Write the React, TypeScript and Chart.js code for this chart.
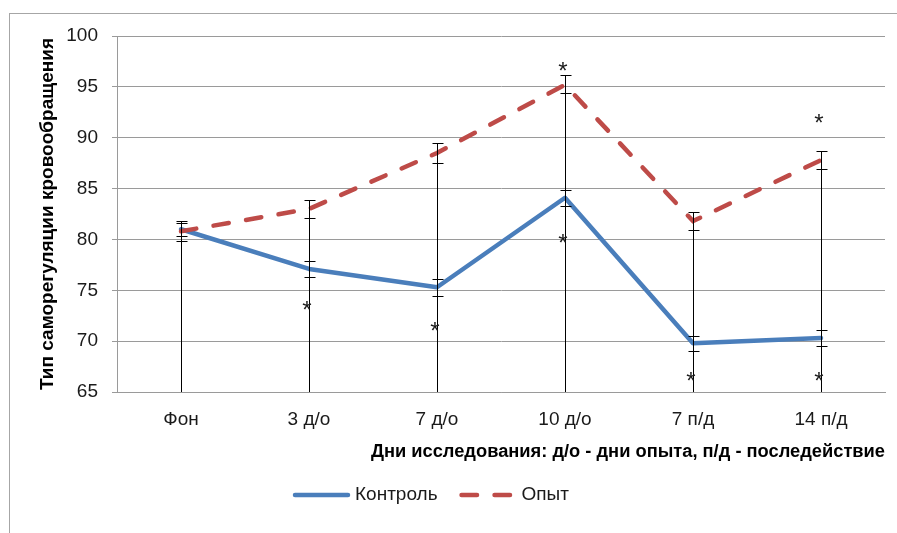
import React, { useEffect, useRef } from "react";
import { Chart, registerables } from "chart.js";

Chart.register(...registerables);

const FONT = "'Liberation Sans', Arial, sans-serif";

const categories = ["Фон", "3 д/о", "7 д/о", "10 д/о", "7 п/д", "14 п/д"];
const controlLabel = "Контроль";
const experimentLabel = "Опыт";
const controlValues = [81.0, 77.1, 75.3, 84.1, 69.8, 70.3];
const experimentValues = [80.8, 83.0, 88.5, 95.2, 81.8, 87.8];
const controlErrUpper = [81.6, 77.9, 76.1, 84.9, 70.5, 71.1];
const controlErrLower = [80.3, 76.3, 74.4, 83.3, 69.0, 69.5];
const experimentErrUpper = [81.8, 83.9, 89.5, 96.2, 82.7, 88.7];
const experimentErrLower = [79.8, 82.1, 87.5, 94.4, 80.9, 86.9];
const asteriskCategory = [1, 2, 3, 3, 4, 5, 5];
const asteriskValue = [73.5, 71.4, 97.0, 80.1, 66.5, 91.9, 66.5];
const yMin = 65;
const yMax = 100;
const yStep = 5;
const xTitle = "Дни исследования: д/о - дни опыта, п/д - последействие";
const yTitle = "Тип саморегуляции кровообращения";

const BLUE = "#4a7ebb";
const RED = "#be4b48";
const GRID = "#9a9a9a";
const TEXT = "#1a1a1a";

const errorBarsPlugin = {
  id: "errorBars",
  afterDatasetsDraw(chart: any) {
    const { ctx, scales } = chart;
    const x = scales.x;
    const y = scales.y;
    ctx.save();
    ctx.strokeStyle = "#000";
    ctx.lineWidth = 1;
    categories.forEach((_, i) => {
      const px = Math.round(x.getPixelForValue(i)) + 0.5;
      const caps = [controlErrUpper[i], controlErrLower[i], experimentErrUpper[i], experimentErrLower[i]];
      const top = Math.min(...caps.map((v) => y.getPixelForValue(v)));
      ctx.beginPath();
      ctx.moveTo(px, y.getPixelForValue(yMin));
      ctx.lineTo(px, Math.round(top) + 0.5);
      ctx.stroke();
      caps.forEach((v) => {
        const py = Math.round(y.getPixelForValue(v)) + 0.5;
        ctx.beginPath();
        ctx.moveTo(px - 5, py);
        ctx.lineTo(px + 6, py);
        ctx.stroke();
      });
    });
    ctx.font = `24px ${FONT}`;
    ctx.fillStyle = TEXT;
    ctx.textAlign = "center";
    ctx.textBaseline = "alphabetic";
    const m = ctx.measureText("*");
    const shift = (m.actualBoundingBoxAscent - m.actualBoundingBoxDescent) / 2;
    asteriskCategory.forEach((c, i) => {
      const px = x.getPixelForValue(c);
      const py = y.getPixelForValue(asteriskValue[i]);
      ctx.fillText("*", px - 2, py + shift);
    });
    ctx.restore();
  },
};

const legendPlugin = {
  id: "customLegend",
  afterDraw(chart: any) {
    const { ctx } = chart;
    const datasets = chart.data.datasets;
    ctx.save();
    ctx.font = `19px ${FONT}`;
    const lineW = 57;
    const gap = 5;
    const itemGap = 22;
    let x = 293;
    const yc = 495;
    datasets.forEach((d: any) => {
      ctx.strokeStyle = d.borderColor;
      ctx.lineWidth = d.borderWidth;
      ctx.lineCap = "round";
      ctx.setLineDash(d.borderDash || []);
      ctx.beginPath();
      ctx.moveTo(x + 2, yc);
      ctx.lineTo(x + lineW - 2, yc);
      ctx.stroke();
      ctx.setLineDash([]);
      ctx.fillStyle = TEXT;
      ctx.textBaseline = "middle";
      ctx.textAlign = "left";
      ctx.fillText(d.label, x + lineW + gap, yc);
      x += lineW + gap + ctx.measureText(d.label).width + itemGap;
    });
    ctx.restore();
  },
};

export default function App() {
  const ref = useRef<HTMLCanvasElement | null>(null);
  useEffect(() => {
    if (!ref.current) return;
    const chart = new Chart(ref.current, {
      type: "line",
      data: {
        labels: categories,
        datasets: [
          {
            label: controlLabel,
            data: controlValues,
            borderColor: BLUE,
            backgroundColor: BLUE,
            borderWidth: 4.5,
            pointRadius: 0,
            tension: 0,
            order: 1,
            borderJoinStyle: "round",
            borderCapStyle: "round",
          },
          {
            label: experimentLabel,
            data: experimentValues,
            borderColor: RED,
            backgroundColor: RED,
            borderWidth: 4.5,
            borderDash: [15.5, 17.5],
            borderCapStyle: "round",
            pointRadius: 0,
            tension: 0,
            order: 0,
          },
        ],
      },
      options: {
        animation: false,
        responsive: false,
        maintainAspectRatio: false,
        events: [],
        layout: { padding: { left: 36, right: 12, top: 36, bottom: 0 } },
        plugins: { legend: { display: false }, tooltip: { enabled: false } },
        scales: {
          x: {
            type: "category",
            offset: true,
            grid: { display: false, drawTicks: false },
            border: { display: true, color: GRID, width: 1 },
            ticks: {
              font: { family: FONT, size: 19 },
              color: TEXT,
              padding: 16,
              maxRotation: 0,
              autoSkip: false,
            },
            title: {
              display: true,
              text: xTitle,
              align: "end",
              color: "#000",
              font: { family: FONT, size: 18.3, weight: "bold" },
              padding: { top: 0, bottom: 70 },
            },
            afterFit: (s: any) => {
              s.height = 141;
            },
          },
          y: {
            min: yMin,
            max: yMax,
            ticks: {
              stepSize: yStep,
              font: { family: FONT, size: 19 },
              color: TEXT,
              padding: 14,
            },
            grid: { color: GRID, tickLength: 5, drawTicks: true, lineWidth: 1 },
            border: { display: true, color: GRID, width: 1 },
            title: {
              display: true,
              text: yTitle,
              color: "#000",
              font: { family: FONT, size: 19, weight: "bold" },
              padding: { top: 0, bottom: 0 },
            },
            afterFit: (s: any) => {
              s.width = 81;
            },
          },
        },
      },
      plugins: [errorBarsPlugin, legendPlugin],
    } as any);
    return () => chart.destroy();
  }, []);

  return (
    <>
      <div
        style={{
          position: "absolute",
          left: 9,
          top: 13,
          width: 888,
          height: 520,
          borderLeft: "1px solid #a6a6a6",
          borderTop: "1px solid #a6a6a6",
          boxSizing: "border-box",
        }}
      />
      <canvas
        ref={ref}
        width={897}
        height={533}
        style={{ position: "absolute", left: 0, top: 0, width: 897, height: 533 }}
      />
    </>
  );
}
